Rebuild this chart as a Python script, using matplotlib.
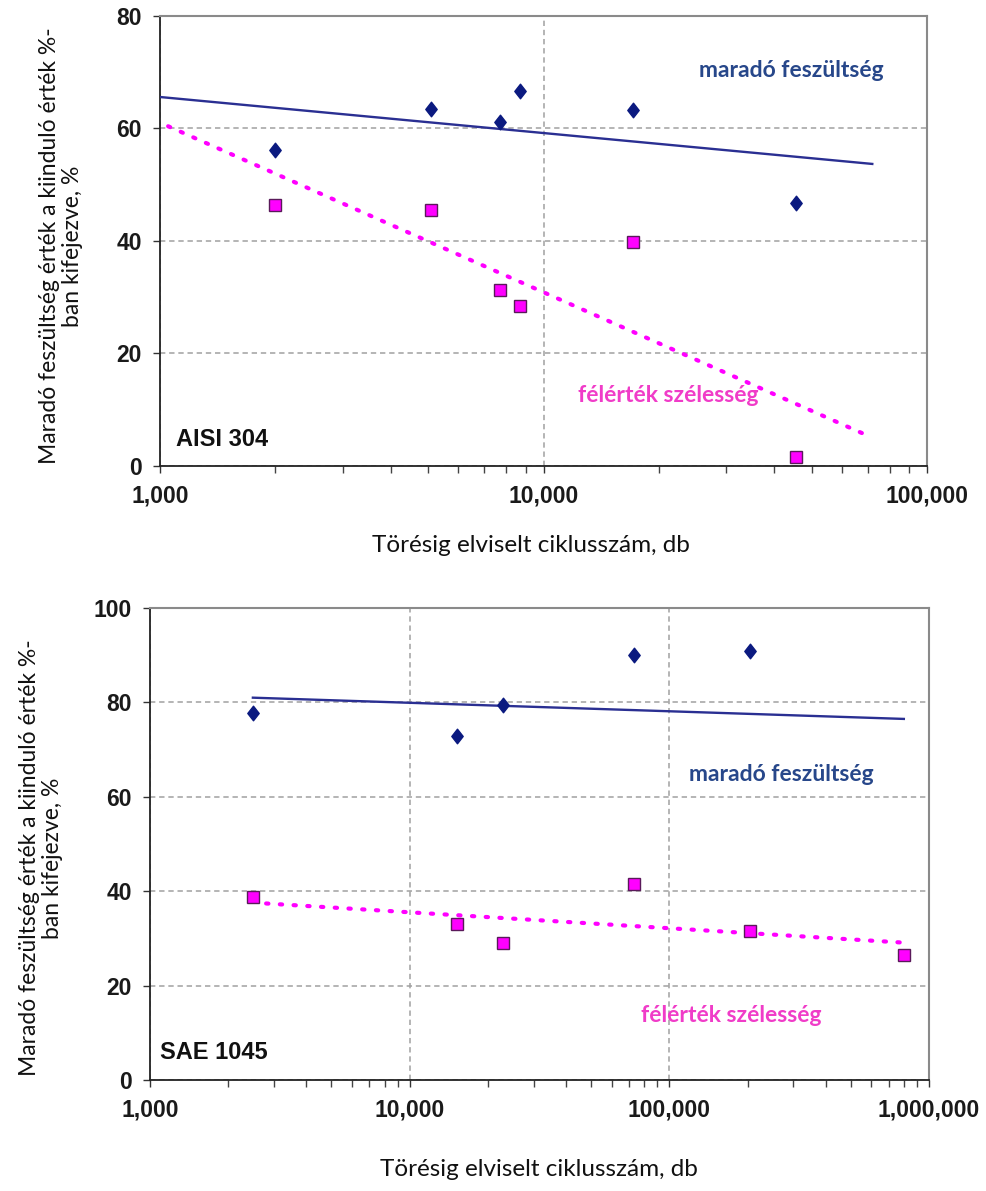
import matplotlib
matplotlib.use("Agg")
import matplotlib.pyplot as plt
from matplotlib.path import Path
from matplotlib.ticker import FixedLocator, LogLocator, FuncFormatter, NullFormatter

# --- AISI 304 ---
aisi_cycles = [2000, 5100, 7700, 8700, 17100, 45500]
aisi_residual = [56.2, 63.5, 61.2, 66.7, 63.3, 46.8]
aisi_fwhm = [46.4, 45.5, 31.3, 28.4, 39.8, 1.6]
aisi_res_trend_x = [1000, 72000]
aisi_res_trend_y = [65.6, 53.7]
aisi_fwhm_trend_x = [1050, 69000]
aisi_fwhm_trend_y = [60.4, 5.6]

# --- SAE 1045 ---
sae_cycles_res = [2490, 15200, 22900, 72900, 205000]
sae_residual = [77.8, 72.9, 79.5, 90.0, 90.9]
sae_cycles_fwhm = [2490, 15200, 22900, 72900, 205000, 800000]
sae_fwhm = [38.8, 33.1, 29.1, 41.5, 31.6, 26.4]
sae_res_trend_x = [2490, 800000]
sae_res_trend_y = [81.0, 76.5]
sae_fwhm_trend_x = [2800, 800000]
sae_fwhm_trend_y = [37.4, 29.1]

ylabel_text = "Maradó feszültség érték a kiinduló érték %-\nban kifejezve, %"
xlabel_text = "Törésig elviselt ciklusszám, db"
label_res = "maradó feszültség"
label_fwhm = "félérték szélesség"

NAVY = "#0b1a80"
LINE_BLUE = "#2a2f92"
MAGENTA = "#ff00ff"
TXT_BLUE = "#27478a"
TXT_PINK = "#f03cc8"
GRID = "#a0a0a0"

# slightly narrow diamond, like the spreadsheet marker
DIAMOND = Path([(0, 1), (0.78, 0), (0, -1), (-0.78, 0), (0, 1)],
               [Path.MOVETO, Path.LINETO, Path.LINETO, Path.LINETO, Path.CLOSEPOLY])

W, H = 986, 1191
fig = plt.figure(figsize=(W / 100, H / 100), dpi=100)


def px_axes(l, t, r, b):
    return fig.add_axes([l / W, 1 - b / H, (r - l) / W, (b - t) / H])


def style(ax, xmax, ymax):
    ax.set_xscale("log")
    ax.set_xlim(1000, xmax)
    ax.set_ylim(0, ymax)
    ax.yaxis.set_major_locator(FixedLocator(list(range(0, ymax + 1, 20))))
    ax.xaxis.set_major_locator(LogLocator(base=10))
    ax.xaxis.set_minor_locator(LogLocator(base=10, subs=range(2, 10)))
    ax.xaxis.set_minor_formatter(NullFormatter())
    ax.xaxis.set_major_formatter(FuncFormatter(lambda v, p: f"{int(round(v)):,}"))
    ax.grid(True, which="major", color=GRID, linestyle=(0, (3.5, 2.5)), linewidth=1.1)
    ax.tick_params(axis="both", which="major", direction="out", length=5, width=1,
                   color="#333333", labelsize=16.5, pad=8)
    ax.tick_params(axis="x", which="minor", direction="out", length=5, width=1, color="#444444")
    for lab in ax.get_xticklabels() + ax.get_yticklabels():
        lab.set_fontfamily("Liberation Sans")
        lab.set_fontweight("bold")
        lab.set_color("#1a1a1a")
    for s in ("top", "right"):
        ax.spines[s].set_color("#8a8a8a")
        ax.spines[s].set_linewidth(1.5)
    for s in ("left", "bottom"):
        ax.spines[s].set_color("#222222")
        ax.spines[s].set_linewidth(1.3)
    ax.set_axisbelow(True)


def draw(ax, xr, yr, xf, yf, trx, try_, tfx, tfy):
    ax.plot(trx, try_, color=LINE_BLUE, linewidth=1.7, zorder=3)
    ax.plot(tfx, tfy, color=MAGENTA, linewidth=3.0, linestyle=(0, (0.55, 2.75)),
            dash_capstyle="round", zorder=3)
    ax.plot(xr, yr, linestyle="none", marker=DIAMOND, markersize=10.5,
            markerfacecolor=NAVY, markeredgecolor=NAVY, zorder=4)
    ax.plot(xf, yf, linestyle="none", marker="s", markersize=8,
            markerfacecolor=MAGENTA, markeredgecolor="#5a1a5a", markeredgewidth=1.0, zorder=4)


# top panel
ax1 = px_axes(160, 16, 927, 466)
style(ax1, 100000, 80)
draw(ax1, aisi_cycles, aisi_residual, aisi_cycles, aisi_fwhm,
     aisi_res_trend_x, aisi_res_trend_y, aisi_fwhm_trend_x, aisi_fwhm_trend_y)
ax1.text(0.823, 0.878, label_res, transform=ax1.transAxes, ha="center", va="center",
         fontsize=16.5, fontweight="bold", color=TXT_BLUE, family="Lato")
ax1.text(0.662, 0.156, label_fwhm, transform=ax1.transAxes, ha="center", va="center",
         fontsize=16.5, fontweight="bold", color=TXT_PINK, family="Lato")
ax1.text(0.021, 0.058, "AISI 304", transform=ax1.transAxes, ha="left", va="center",
         fontsize=17, fontweight="bold", color="#111111", family="Liberation Sans")

# bottom panel
ax2 = px_axes(150, 608, 929, 1080)
style(ax2, 1000000, 100)
draw(ax2, sae_cycles_res, sae_residual, sae_cycles_fwhm, sae_fwhm,
     sae_res_trend_x, sae_res_trend_y, sae_fwhm_trend_x, sae_fwhm_trend_y)
ax2.text(0.811, 0.648, label_res, transform=ax2.transAxes, ha="center", va="center",
         fontsize=16.5, fontweight="bold", color=TXT_BLUE, family="Lato")
ax2.text(0.746, 0.136, label_fwhm, transform=ax2.transAxes, ha="center", va="center",
         fontsize=16.5, fontweight="bold", color=TXT_PINK, family="Lato")
ax2.text(0.013, 0.059, "SAE 1045", transform=ax2.transAxes, ha="left", va="center",
         fontsize=17, fontweight="bold", color="#111111", family="Liberation Sans")

# axis titles
fig.text(531 / W, 1 - 545 / H, xlabel_text, ha="center", va="center", fontsize=17.5,
         family="Lato", color="#111111")
fig.text(539 / W, 1 - 1170 / H, xlabel_text, ha="center", va="center", fontsize=17.5,
         family="Lato", color="#111111")
fig.text(61 / W, 1 - 246 / H, ylabel_text, ha="center", va="center", rotation=90,
         multialignment="center", fontsize=16.5, family="Lato", color="#111111", linespacing=1.15)
fig.text(41 / W, 1 - 858 / H, ylabel_text, ha="center", va="center", rotation=90,
         multialignment="center", fontsize=16.5, family="Lato", color="#111111", linespacing=1.15)

fig.savefig("out.png", dpi=100, facecolor="white")
